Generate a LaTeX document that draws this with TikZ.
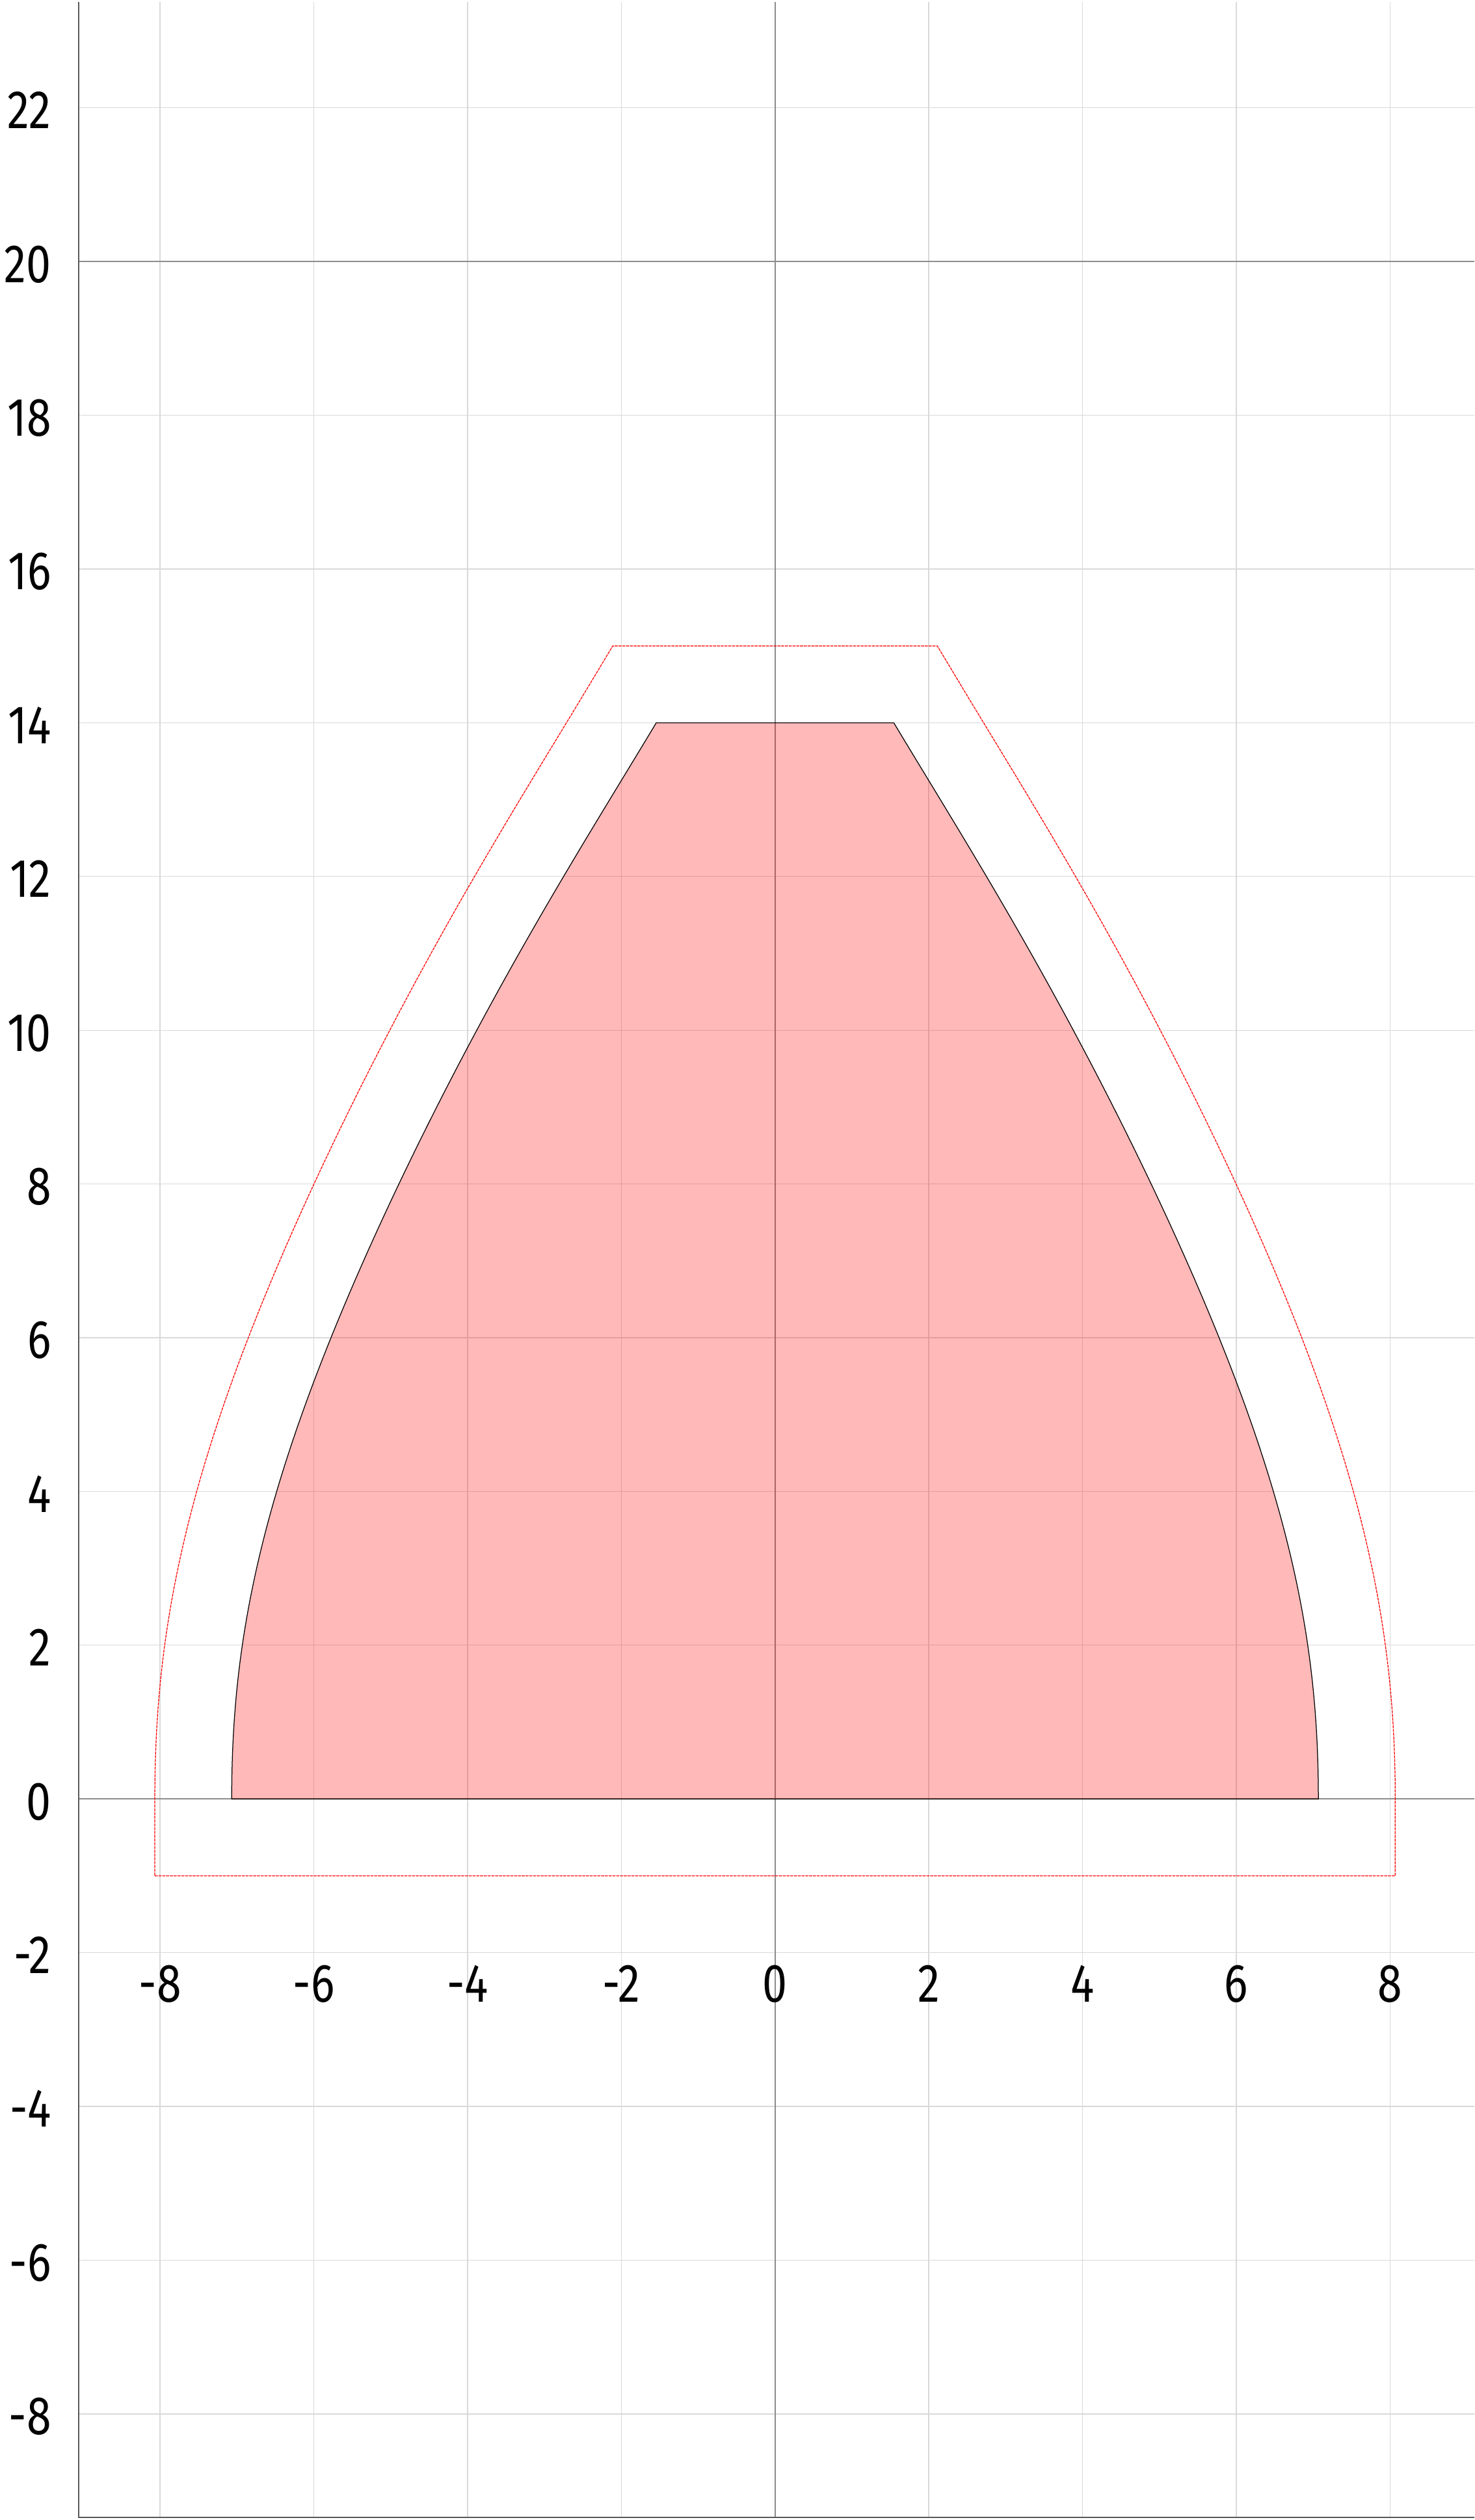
\documentclass[tikz,border=0pt]{standalone}
\usepackage{fontspec}
\setmainfont{Fira Sans}[FakeStretch=0.82]
\definecolor{gridc}{RGB}{217,217,217}
\begin{document}
\begin{tikzpicture}[x=1cm,y=1cm,
  declare function={
    qq(\x)=-2.744224+10.984208*\x-10.75256*\x*\x;
    fb(\x)=8.169*\x*\x-2.646*\x*\x*\x+\x*\x*(1-\x)*(1-\x)*qq(\x);
    fs(\x)=(16.338*\x-7.938*\x*\x+2*\x*(1-\x)*(1-2*\x)*qq(\x)+\x*\x*(1-\x)*(1-\x)*(10.984208-21.50512*\x))/14;
    nl(\x)=sqrt(1+fs(\x)*fs(\x));
  },
  gridline/.style={draw=gridc, line width=0.3pt},
  axisline/.style={draw=black!45, line width=0.4pt},
  frameline/.style={draw=black!65, line width=0.4pt},
  shapefill/.style={fill=red, fill opacity=0.275, draw=black, draw opacity=1, line width=0.3pt},
  offsetline/.style={draw=red, line width=0.3pt, dash pattern=on 1.1pt off 0.3pt},
  ticklabel/.style={font=\fontsize{20}{24}\selectfont, inner sep=0pt, text=black}]
\useasboundingbox (-10.082,-9.380) rectangle (9.097,23.403);
% grid
\foreach \x in {-8,-6,...,8} \draw[gridline] (\x,-9.346) -- (\x,23.378);
\foreach \y in {-8,-6,...,22} \draw[gridline] (-9.058,\y) -- (9.097,\y);
% axes
\draw[axisline] (0,-9.346) -- (0,23.378);
\draw[axisline] (-9.058,0) -- (9.097,0);
\draw[axisline] (-9.058,20) -- (9.097,20);
% shape
\draw[shapefill] (-7.068,0) -- (7.068,0)
  -- plot[domain=0:0.995, samples=120] ({7.068-fb(\x)}, {14*\x})
  -- (1.545,14) -- (-1.545,14)
  -- plot[domain=0.995:0, samples=120] ({-7.068+fb(\x)}, {14*\x})
  -- cycle;
% offset outline
\draw[offsetline] (-8.068,-1) -- (8.068,-1) -- (8.068,0)
  -- plot[domain=0:0.995, samples=120] ({7.068-fb(\x)+1/nl(\x)}, {14*\x+fs(\x)/nl(\x)})
  -- (2.4025,14.5145) -- (2.111,15) -- (-2.111,15) -- (-2.4025,14.5145)
  -- plot[domain=0.995:0, samples=120] ({-7.068+fb(\x)-1/nl(\x)}, {14*\x+fs(\x)/nl(\x)})
  -- cycle;
% frame
\draw[frameline] (-9.058,23.378) -- (-9.058,-9.346) -- (9.097,-9.346);
% labels
\foreach \y in {-8,-6,...,22} \node[ticklabel, anchor=base east, name=yl\y] at (-9.41,{\y-0.27}) {\y};
\foreach \x in {-8,-6,...,8} \node[ticklabel, anchor=base, name=xl\x] at (\x,-2.645) {\x};
\end{tikzpicture}
\end{document}
